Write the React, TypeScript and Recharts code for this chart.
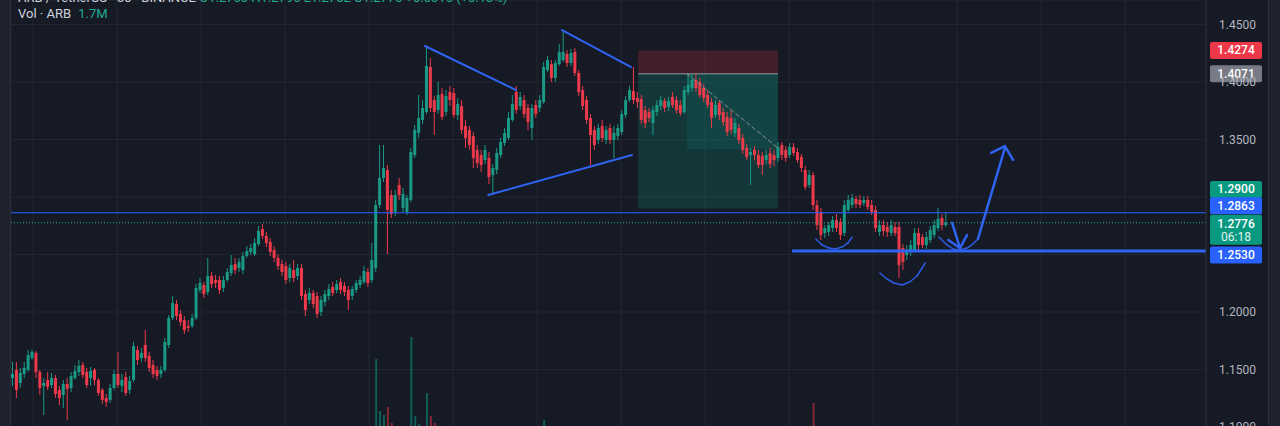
import { ComposedChart, Bar, Cell, XAxis, YAxis, CartesianGrid, ReferenceLine, ReferenceArea } from 'recharts';

const BG = '#161a25';
const GRID = '#232733';
const UP = '#1a9a85';
const DOWN = '#ec3a4a';
const BLUE = '#2f64f2';
const FONT = 'Roboto, "Noto Sans", sans-serif';

// ARB/USDT 30m candles
const opens = [
  1.1426, 1.1496, 1.1383, 1.1461, 1.1496, 1.1600, 1.1644, 1.1479, 1.1357, 1.1409,
  1.1365, 1.1426, 1.1322, 1.1278, 1.1374, 1.1339, 1.1426, 1.1479, 1.1539, 1.1479,
  1.1426, 1.1496, 1.1409, 1.1322, 1.1252, 1.1235, 1.1339, 1.1461, 1.1357, 1.1435,
  1.1322, 1.1409, 1.1670, 1.1600, 1.1713, 1.1618, 1.1539, 1.1496, 1.1461, 1.1496,
  1.1713, 1.1948, 1.2069, 1.1983, 1.1930, 1.1878, 1.1878, 1.1948, 1.2191, 1.2235,
  1.2174, 1.2313, 1.2278, 1.2278, 1.2209, 1.2278, 1.2339, 1.2417, 1.2383, 1.2365,
  1.2487, 1.2522, 1.2504, 1.2591, 1.2722, 1.2661, 1.2609, 1.2539, 1.2470, 1.2417,
  1.2400, 1.2296, 1.2365, 1.2313, 1.2383, 1.2156, 1.2104, 1.2165, 1.2139, 1.2000,
  1.2087, 1.2139, 1.2217, 1.2191, 1.2261, 1.2226, 1.2191, 1.2139, 1.2191, 1.2235,
  1.2261, 1.2348, 1.2278, 1.2383, 1.2930, 1.3165, 1.3235, 1.3017, 1.2870, 1.3104,
  1.2904, 1.2870, 1.2974, 1.3365, 1.3557, 1.3670, 1.3739, 1.4130, 1.3843, 1.3756,
  1.3896, 1.3739, 1.3913, 1.3904, 1.3713, 1.3791, 1.3617, 1.3583, 1.3530, 1.3409,
  1.3365, 1.3322, 1.3339, 1.3191, 1.3235, 1.3365, 1.3470, 1.3513, 1.3670, 1.3913,
  1.3791, 1.3843, 1.3774, 1.3600, 1.3800, 1.3774, 1.3826, 1.4104, 1.4156, 1.4035,
  1.4156, 1.4191, 1.4243, 1.4165, 1.4261, 1.4078, 1.3930, 1.3843, 1.3687, 1.3583,
  1.3496, 1.3617, 1.3496, 1.3600, 1.3496, 1.3530, 1.3565, 1.3713, 1.3843, 1.3922,
  1.3861, 1.3852, 1.3756, 1.3739, 1.3643, 1.3739, 1.3791, 1.3835, 1.3783, 1.3870,
  1.3843, 1.3800, 1.3739, 1.3913, 1.3948, 1.4017, 1.4000, 1.3948, 1.3887, 1.3826,
  1.3713, 1.3817, 1.3739, 1.3696, 1.3687, 1.3557, 1.3600, 1.3513, 1.3426, 1.3365,
  1.3409, 1.3365, 1.3357, 1.3322, 1.3383, 1.3365, 1.3339, 1.3452, 1.3409, 1.3365,
  1.3435, 1.3391, 1.3348, 1.3235, 1.3104, 1.3191, 1.2930, 1.2870, 1.2687, 1.2696,
  1.2730, 1.2800, 1.2783, 1.2687, 1.2887, 1.2930, 1.2983, 1.2974, 1.2948, 1.2974,
  1.2930, 1.2887, 1.2696, 1.2756, 1.2739, 1.2687, 1.2739, 1.2739, 1.2557, 1.2495,
  1.2522, 1.2539, 1.2687, 1.2652, 1.2582, 1.2626, 1.2669, 1.2730, 1.2817, 1.2756,
];

const highs = [
  1.1566, 1.1566, 1.1513, 1.1566, 1.1670, 1.1670, 1.1661, 1.1496, 1.1426, 1.1479,
  1.1470, 1.1452, 1.1357, 1.1409, 1.1426, 1.1479, 1.1539, 1.1583, 1.1566, 1.1513,
  1.1522, 1.1513, 1.1426, 1.1339, 1.1287, 1.1374, 1.1496, 1.1653, 1.1461, 1.1479,
  1.1444, 1.1739, 1.1704, 1.1687, 1.1843, 1.1653, 1.1583, 1.1531, 1.1531, 1.1774,
  1.1974, 1.2139, 1.2104, 1.2017, 1.1965, 1.1930, 1.1983, 1.2243, 1.2295, 1.2261,
  1.2470, 1.2348, 1.2322, 1.2313, 1.2313, 1.2383, 1.2495, 1.2470, 1.2470, 1.2522,
  1.2574, 1.2591, 1.2643, 1.2748, 1.2765, 1.2696, 1.2643, 1.2574, 1.2504, 1.2452,
  1.2435, 1.2417, 1.2452, 1.2417, 1.2417, 1.2191, 1.2209, 1.2191, 1.2174, 1.2139,
  1.2191, 1.2243, 1.2261, 1.2278, 1.2296, 1.2261, 1.2226, 1.2226, 1.2278, 1.2313,
  1.2400, 1.2383, 1.2600, 1.2974, 1.3452, 1.3452, 1.3278, 1.3061, 1.3061, 1.3165,
  1.3078, 1.3017, 1.3426, 1.3626, 1.3887, 1.3843, 1.4304, 1.4209, 1.3878, 1.4000,
  1.3948, 1.3930, 1.3965, 1.3948, 1.3861, 1.3843, 1.3670, 1.3617, 1.3565, 1.3452,
  1.3409, 1.3452, 1.3391, 1.3287, 1.3426, 1.3513, 1.3600, 1.3739, 1.3887, 1.3965,
  1.3913, 1.3887, 1.3809, 1.3809, 1.3843, 1.3887, 1.4174, 1.4226, 1.4191, 1.4191,
  1.4330, 1.4452, 1.4278, 1.4287, 1.4296, 1.4104, 1.3965, 1.3878, 1.3722, 1.3617,
  1.3635, 1.3670, 1.3617, 1.3635, 1.3617, 1.3635, 1.3756, 1.3878, 1.3965, 1.4130,
  1.3913, 1.3887, 1.3791, 1.3774, 1.3791, 1.3843, 1.3878, 1.3861, 1.3870, 1.3913,
  1.3878, 1.3843, 1.3965, 1.4078, 1.4070, 1.4078, 1.4035, 1.3983, 1.3930, 1.3861,
  1.3843, 1.3843, 1.3774, 1.3739, 1.3756, 1.3687, 1.3635, 1.3548, 1.3461, 1.3426,
  1.3443, 1.3409, 1.3391, 1.3409, 1.3426, 1.3409, 1.3478, 1.3478, 1.3443, 1.3470,
  1.3470, 1.3426, 1.3374, 1.3270, 1.3235, 1.3217, 1.2974, 1.2904, 1.2756, 1.2783,
  1.2835, 1.2852, 1.2817, 1.2974, 1.3017, 1.3026, 1.3009, 1.3017, 1.3009, 1.3009,
  1.2974, 1.2922, 1.2800, 1.2800, 1.2783, 1.2800, 1.2783, 1.2783, 1.2591, 1.2582,
  1.2626, 1.2730, 1.2730, 1.2678, 1.2696, 1.2748, 1.2800, 1.2904, 1.2852, 1.2870,
];

const lows = [
  1.1357, 1.1252, 1.1339, 1.1426, 1.1479, 1.1583, 1.1426, 1.1278, 1.1104, 1.1322,
  1.1339, 1.1252, 1.1191, 1.1165, 1.1061, 1.1304, 1.1409, 1.1444, 1.1426, 1.1339,
  1.1357, 1.1365, 1.1270, 1.1200, 1.1174, 1.1209, 1.1322, 1.1339, 1.1304, 1.1270,
  1.1287, 1.1391, 1.1539, 1.1566, 1.1566, 1.1479, 1.1426, 1.1409, 1.1426, 1.1479,
  1.1687, 1.1930, 1.1930, 1.1878, 1.1809, 1.1826, 1.1861, 1.1930, 1.2165, 1.2122,
  1.2148, 1.2209, 1.2209, 1.2156, 1.2174, 1.2261, 1.2313, 1.2330, 1.2348, 1.2330,
  1.2470, 1.2495, 1.2487, 1.2574, 1.2635, 1.2565, 1.2487, 1.2435, 1.2365, 1.2313,
  1.2243, 1.2261, 1.2261, 1.2278, 1.2104, 1.1965, 1.2069, 1.2035, 1.1948, 1.1965,
  1.2052, 1.2104, 1.2139, 1.2165, 1.2156, 1.2139, 1.2017, 1.2104, 1.2165, 1.2209,
  1.2243, 1.2217, 1.2252, 1.2348, 1.2904, 1.3130, 1.2504, 1.2817, 1.2835, 1.2974,
  1.2870, 1.2843, 1.2957, 1.3339, 1.3513, 1.3635, 1.3722, 1.3739, 1.3539, 1.3722,
  1.3670, 1.3704, 1.3791, 1.3687, 1.3670, 1.3548, 1.3426, 1.3409, 1.3252, 1.3252,
  1.3217, 1.3287, 1.3113, 1.3017, 1.3200, 1.3339, 1.3443, 1.3496, 1.3652, 1.3722,
  1.3756, 1.3687, 1.3583, 1.3496, 1.3687, 1.3739, 1.3809, 1.4087, 1.4000, 1.4000,
  1.4139, 1.4174, 1.4130, 1.4139, 1.4052, 1.3878, 1.3756, 1.3635, 1.3278, 1.3409,
  1.3461, 1.3478, 1.3461, 1.3461, 1.3339, 1.3496, 1.3539, 1.3687, 1.3826, 1.3809,
  1.3774, 1.3635, 1.3600, 1.3652, 1.3539, 1.3704, 1.3756, 1.3739, 1.3748, 1.3774,
  1.3722, 1.3704, 1.3722, 1.3887, 1.3913, 1.3913, 1.3861, 1.3826, 1.3774, 1.3600,
  1.3687, 1.3670, 1.3617, 1.3530, 1.3548, 1.3522, 1.3461, 1.3374, 1.3322, 1.3104,
  1.3322, 1.3252, 1.3191, 1.3287, 1.3252, 1.3270, 1.3304, 1.3322, 1.3304, 1.3339,
  1.3357, 1.3296, 1.3217, 1.3061, 1.3078, 1.2887, 1.2713, 1.2626, 1.2643, 1.2661,
  1.2696, 1.2696, 1.2626, 1.2661, 1.2870, 1.2904, 1.2904, 1.2904, 1.2922, 1.2887,
  1.2843, 1.2696, 1.2661, 1.2661, 1.2652, 1.2661, 1.2661, 1.2296, 1.2365, 1.2452,
  1.2487, 1.2522, 1.2539, 1.2556, 1.2548, 1.2600, 1.2643, 1.2704, 1.2713, 1.2739,
];

const closes = [
  1.1461, 1.1322, 1.1470, 1.1513, 1.1626, 1.1653, 1.1479, 1.1339, 1.1383, 1.1348,
  1.1426, 1.1287, 1.1252, 1.1374, 1.1330, 1.1444, 1.1487, 1.1531, 1.1452, 1.1365,
  1.1487, 1.1409, 1.1296, 1.1235, 1.1217, 1.1339, 1.1461, 1.1365, 1.1409, 1.1296,
  1.1400, 1.1704, 1.1583, 1.1644, 1.1600, 1.1513, 1.1461, 1.1444, 1.1496, 1.1739,
  1.1948, 1.2078, 1.1965, 1.1913, 1.1843, 1.1861, 1.1948, 1.2209, 1.2252, 1.2156,
  1.2313, 1.2243, 1.2252, 1.2191, 1.2278, 1.2348, 1.2409, 1.2365, 1.2435, 1.2487,
  1.2530, 1.2557, 1.2600, 1.2704, 1.2661, 1.2600, 1.2522, 1.2470, 1.2400, 1.2348,
  1.2278, 1.2383, 1.2296, 1.2383, 1.2139, 1.2017, 1.2165, 1.2069, 1.1983, 1.2104,
  1.2156, 1.2200, 1.2165, 1.2243, 1.2191, 1.2174, 1.2104, 1.2200, 1.2252, 1.2278,
  1.2357, 1.2252, 1.2452, 1.2930, 1.3165, 1.3252, 1.2887, 1.2852, 1.3017, 1.3017,
  1.3026, 1.2991, 1.3391, 1.3583, 1.3687, 1.3774, 1.4139, 1.3774, 1.3739, 1.3887,
  1.3696, 1.3878, 1.3843, 1.3713, 1.3809, 1.3583, 1.3513, 1.3452, 1.3339, 1.3296,
  1.3278, 1.3409, 1.3174, 1.3252, 1.3383, 1.3478, 1.3557, 1.3687, 1.3809, 1.3756,
  1.3870, 1.3722, 1.3652, 1.3774, 1.3722, 1.3843, 1.4130, 1.4191, 1.4035, 1.4165,
  1.4261, 1.4261, 1.4165, 1.4252, 1.4078, 1.3913, 1.3791, 1.3670, 1.3539, 1.3452,
  1.3600, 1.3513, 1.3583, 1.3496, 1.3557, 1.3600, 1.3722, 1.3843, 1.3930, 1.3843,
  1.3826, 1.3670, 1.3643, 1.3687, 1.3756, 1.3800, 1.3843, 1.3774, 1.3835, 1.3800,
  1.3756, 1.3730, 1.3930, 1.3974, 1.4017, 1.3948, 1.3887, 1.3861, 1.3800, 1.3687,
  1.3800, 1.3713, 1.3652, 1.3565, 1.3583, 1.3643, 1.3496, 1.3409, 1.3348, 1.3391,
  1.3365, 1.3278, 1.3278, 1.3365, 1.3287, 1.3322, 1.3435, 1.3365, 1.3339, 1.3435,
  1.3383, 1.3322, 1.3252, 1.3087, 1.3191, 1.2930, 1.2756, 1.2669, 1.2730, 1.2756,
  1.2800, 1.2730, 1.2669, 1.2930, 1.2974, 1.2991, 1.2939, 1.2930, 1.2974, 1.2913,
  1.2870, 1.2730, 1.2756, 1.2704, 1.2696, 1.2756, 1.2687, 1.2409, 1.2435, 1.2539,
  1.2582, 1.2687, 1.2582, 1.2582, 1.2652, 1.2713, 1.2756, 1.2809, 1.2756, 1.2776,
];

// volume in millions ARB (only the breakout bars reach into view)
const volumes = [
  2.1, 2.6, 1.8, 1.5, 2.4, 1.9, 2.8, 3.1, 3.4, 2.0,
  1.7, 2.5, 2.9, 2.2, 3.6, 2.3, 1.6, 1.9, 2.0, 2.4,
  1.8, 1.5, 2.6, 2.8, 2.2, 2.5, 2.7, 3.2, 1.9, 2.3,
  1.8, 3.9, 2.4, 1.7, 3.3, 2.1, 1.9, 1.6, 1.5, 3.4,
  3.8, 3.5, 2.6, 2.0, 2.3, 1.6, 1.8, 3.7, 2.4, 2.0,
  3.2, 2.1, 1.7, 1.9, 1.8, 2.2, 2.9, 2.0, 1.7, 2.4,
  2.1, 1.8, 2.5, 3.0, 2.6, 2.2, 2.4, 2.0, 2.3, 1.9,
  2.7, 2.2, 2.5, 1.8, 3.4, 3.6, 2.3, 2.1, 2.8, 2.4,
  1.9, 1.7, 1.6, 1.8, 1.5, 1.7, 2.6, 1.9, 1.8, 1.6,
  2.4, 2.0, 3.9, 12.1, 6.9, 6.5, 7.3, 5.7, 4.8, 4.2,
  3.9, 3.6, 14.3, 6.4, 5.6, 5.0, 8.7, 6.4, 5.7, 4.6,
  4.8, 3.9, 3.4, 4.1, 3.2, 3.9, 3.3, 2.8, 3.5, 2.6,
  2.4, 2.3, 3.1, 2.9, 2.5, 2.2, 2.0, 2.6, 3.0, 3.2,
  2.1, 2.4, 2.5, 2.9, 2.0, 2.2, 6.0, 3.4, 3.0, 2.6,
  3.5, 4.6, 2.8, 2.4, 3.3, 3.6, 3.0, 3.1, 4.2, 2.7,
  2.3, 2.1, 1.9, 2.2, 2.6, 1.8, 2.5, 2.7, 2.4, 3.5,
  2.2, 2.8, 2.0, 1.7, 2.1, 1.6, 1.5, 1.4, 1.3, 1.5,
  1.6, 1.4, 2.6, 2.3, 1.8, 1.7, 1.9, 1.6, 1.8, 2.5,
  1.7, 1.6, 1.9, 2.2, 1.8, 1.7, 2.1, 2.4, 2.0, 3.3,
  1.6, 1.9, 2.2, 1.5, 1.7, 1.4, 1.8, 1.6, 1.3, 1.5,
  1.4, 1.6, 2.2, 3.4, 2.1, 7.7, 4.6, 4.1, 2.8, 2.2,
  2.0, 1.8, 2.6, 3.1, 2.4, 1.9, 1.7, 1.6, 1.4, 1.5,
  1.7, 2.6, 2.2, 1.8, 1.6, 1.9, 1.7, 4.9, 3.3, 2.4,
  2.1, 2.6, 1.9, 1.6, 1.8, 2.2, 2.4, 2.5, 1.9, 1.7,
];

const priceTicks = [1.1, 1.15, 1.2, 1.25, 1.3, 1.35, 1.4, 1.45];
// tick labels that sit behind the price tags on the axis
const coveredTicks = [1.25, 1.3];
const priceDomain = [1.0539, 1.4713];
const volumeDomain = [0, 48];
// bar slots incl. empty space on the right of the last candle
const SLOTS = 306;
// time grid lines (bar index)
const timeGrid = [5.13, 26.64, 48.16, 69.67, 91.18, 112.69, 134.2, 155.71, 177.22, 198.73, 220.24, 241.75, 263.26, 284.77];

// drawings: [bar index, price]
const triangle = [
  [[105.5, 1.4313], [128.8, 1.393]],
  [[121.7, 1.3017], [158.5, 1.3365]],
  [[140.6, 1.4452], [158.3, 1.413]],
];
const shortPos = { x1: 160.1, x2: 195.9, entry: 1.4071, stop: 1.4274, target: 1.29, openX: 172.6, last: 1.3417 };
const shortPath = [[172.6, 1.4071], [195.9, 1.3426]];
const resistance = 1.2863;
const lastPrice = 1.2776;
const support = { from: 199.5, price: 1.253 };
const arcs = [
  [[205.6, 1.2635], [207.2, 1.2583], [209.0, 1.2556], [210.5, 1.2548], [212.3, 1.2565], [213.8, 1.26], [214.9, 1.2652]],
  [[222.0, 1.2339], [223.8, 1.2287], [225.6, 1.2252], [227.7, 1.2235], [229.6, 1.2261], [231.5, 1.2313], [233.6, 1.2426]],
  [[237.1, 1.2652], [238.9, 1.2591], [240.7, 1.2548], [242.5, 1.2539], [244.3, 1.2556], [245.8, 1.2591], [247.1, 1.2635]],
];
const arrows = [
  [[240.5, 1.2774], [242.5, 1.2556]],
  [[239.5, 1.2626], [242.5, 1.2556], [244.3, 1.2669]],
  [[247.1, 1.2635], [254.0, 1.3426]],
  [[250.5, 1.3383], [254.0, 1.3443], [256.1, 1.3322]],
];

const tagPrices = [1.4274, 1.4071, 1.29, 1.2863, 1.2776, 1.253];
const tagStyle: Record<string, { color: string; shift: number; sub?: string }> = {
  '1.4274': { color: '#ee3748', shift: 0 },
  '1.4071': { color: '#787b86', shift: 0 },
  '1.2900': { color: '#089981', shift: -19 },
  '1.2863': { color: '#2962ff', shift: -7 },
  '1.2776': { color: '#089981', shift: 7, sub: '06:18' },
  '1.2530': { color: '#2962ff', shift: 4 },
};

const data = Array.from({ length: SLOTS }, (_, i) =>
  i < opens.length
    ? { i, o: opens[i], h: highs[i], l: lows[i], c: closes[i], vol: volumes[i], hl: [lows[i], highs[i]] }
    : { i }
);

const Candle = (props: any) => {
  const { x, y, width, height, payload } = props;
  if (!payload || payload.o === undefined || !Number.isFinite(y)) return null;
  const { o, h, l, c } = payload;
  const color = c >= o ? UP : DOWN;
  const k = h > l ? height / (h - l) : 0;
  const yo = y + (h - o) * k;
  const yc = y + (h - c) * k;
  const cx = x + width / 2;
  return (
    <g>
      <line x1={cx} x2={cx} y1={y} y2={y + height} stroke={color} strokeWidth={1} />
      <rect x={x} y={Math.min(yo, yc)} width={width} height={Math.max(1, Math.abs(yc - yo))} fill={color} />
    </g>
  );
};

const PriceTag = (props: any) => {
  const { viewBox, text } = props;
  const st = tagStyle[text];
  if (!viewBox || !st) return null;
  const left = viewBox.x + viewBox.width + 4;
  const h = st.sub ? 30 : 17;
  const cy = viewBox.y + st.shift;
  return (
    <g>
      <rect x={left} y={cy - h / 2} width={52} height={h} rx={2} fill={st.color} />
      <text x={left + 26} y={st.sub ? cy - 6 : cy} textAnchor="middle" dominantBaseline="central" fill="#ffffff" fontSize={12} fontWeight={500} fontFamily={FONT}>{text}</text>
      {st.sub && (
        <text x={left + 26} y={cy + 7} textAnchor="middle" dominantBaseline="central" fill="#e6f4f1" fontSize={12} fontFamily={FONT}>{st.sub}</text>
      )}
    </g>
  );
};

const polyline = (pts: number[][], stroke: string, width: number, key: string, dash?: string) =>
  pts.slice(1).map((p, j) => (
    <ReferenceLine
      key={`${key}-${j}`}
      xAxisId="n"
      yAxisId="p"
      segment={[{ x: pts[j][0], y: pts[j][1] }, { x: p[0], y: p[1] }]}
      stroke={stroke}
      strokeWidth={width}
      strokeDasharray={dash}
      strokeLinecap="round"
      ifOverflow="visible"
    />
  ));

export default function App() {
  return (
    <div style={{ position: 'fixed', left: 0, top: 0, width: 1280, height: 426, overflow: 'hidden', background: BG, fontFamily: FONT }}>
      <ComposedChart width={1280} height={480} data={data} margin={{ top: 0, right: 12, bottom: 0, left: 11 }}>
        <XAxis xAxisId="c" dataKey="i" type="category" hide />
        <XAxis xAxisId="cv" dataKey="i" type="category" hide />
        <XAxis xAxisId="n" dataKey="i" type="number" domain={[-0.5, SLOTS - 0.5]} ticks={timeGrid} allowDataOverflow hide />
        <YAxis
          yAxisId="p"
          orientation="right"
          width={62}
          domain={priceDomain}
          allowDataOverflow
          ticks={priceTicks}
          interval={0}
          tickFormatter={(v: number) => (coveredTicks.includes(v) ? '' : v.toFixed(4))}
          tick={{ fill: '#b2b5be', fontSize: 12, fontFamily: FONT }}
          tickLine={false}
          tickSize={0}
          tickMargin={13}
          axisLine={{ stroke: '#2a2e39' }}
        />
        <YAxis yAxisId="v" hide domain={volumeDomain} allowDataOverflow />
        <CartesianGrid xAxisId="n" yAxisId="p" stroke={GRID} strokeWidth={1} />

        <Bar xAxisId="cv" yAxisId="v" dataKey="vol" barSize={2} isAnimationActive={false}>
          {data.map((d: any) => (
            <Cell key={d.i} fill={d.c >= d.o ? 'rgba(8,153,129,0.55)' : 'rgba(242,54,69,0.5)'} />
          ))}
        </Bar>

        <ReferenceArea xAxisId="n" yAxisId="p" x1={shortPos.x1} x2={shortPos.x2} y1={shortPos.entry} y2={shortPos.stop} fill="#f23645" fillOpacity={0.2} stroke="none" />
        <ReferenceArea xAxisId="n" yAxisId="p" x1={shortPos.x1} x2={shortPos.x2} y1={shortPos.target} y2={shortPos.entry} fill="#089981" fillOpacity={0.22} stroke="none" />
        <ReferenceArea xAxisId="n" yAxisId="p" x1={shortPos.openX} x2={shortPos.x2} y1={shortPos.last} y2={shortPos.entry} fill="#089981" fillOpacity={0.14} stroke="none" />
        <ReferenceLine xAxisId="n" yAxisId="p" segment={[{ x: shortPos.x1, y: shortPos.entry }, { x: shortPos.x2, y: shortPos.entry }]} stroke="#9598a1" strokeWidth={1} />

        <Bar xAxisId="c" yAxisId="p" dataKey={(d: any) => d.hl} barSize={3} shape={<Candle />} isAnimationActive={false} />

        {polyline(shortPath, '#8a8f9a', 1, 'path', '4 3')}
        <ReferenceLine xAxisId="n" yAxisId="p" y={resistance} stroke="#2962ff" strokeWidth={1} />
        <ReferenceLine xAxisId="n" yAxisId="p" y={lastPrice} stroke="#22ab94" strokeWidth={1} strokeDasharray="1 2" />
        <ReferenceLine xAxisId="n" yAxisId="p" segment={[{ x: support.from, y: support.price }, { x: SLOTS - 0.5, y: support.price }]} stroke={BLUE} strokeWidth={3} />

        {triangle.map((t, k) => polyline(t, BLUE, 2, `tri${k}`))}
        {arcs.map((a, k) => polyline(a, '#2d5be0', 1.5, `arc${k}`))}
        {arrows.map((a, k) => polyline(a, BLUE, 2.5, `arr${k}`))}

        {tagPrices.map((p) => (
          <ReferenceLine key={`tag${p}`} xAxisId="n" yAxisId="p" y={p} stroke="none" label={<PriceTag text={p.toFixed(4)} />} />
        ))}
      </ComposedChart>

      <div style={{ position: 'absolute', left: 0, top: 0, width: 10, height: 426, background: '#1f222c', borderRight: '1px solid #2a2e39' }} />
      <div style={{ position: 'absolute', left: 1268, top: 0, width: 12, height: 426, background: '#1f222c', borderLeft: '1px solid #2a2e39' }} />

      <div style={{ position: 'absolute', left: 18, top: -10, fontSize: 13, lineHeight: '16px', color: '#d1d4dc', whiteSpace: 'nowrap' }}>
        ARB / TetherUS · 30 · BINANCE{' '}
        <span style={{ color: '#22ab94' }}>O1.2760 H1.2796 L1.2752 C1.2776 +0.0016 (+0.13%)</span>
      </div>
      <div style={{ position: 'absolute', left: 18, top: 6, fontSize: 13, lineHeight: '16px', color: '#d1d4dc', whiteSpace: 'nowrap' }}>
        Vol · ARB <span style={{ color: '#22ab94', marginLeft: 4 }}>1.7M</span>
      </div>
    </div>
  );
}
